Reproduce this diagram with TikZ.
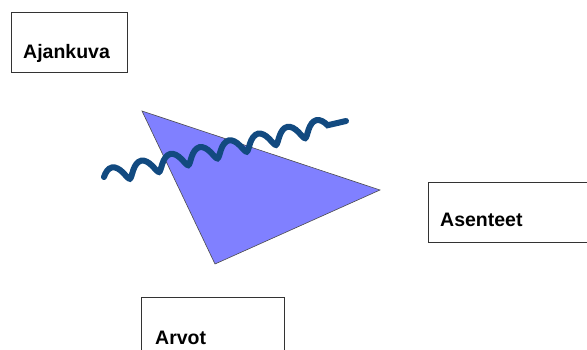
\documentclass[tikz,border=0pt]{standalone}
\usepackage{fontspec}
\setmainfont{Liberation Sans}
\usepackage{tikz}
\usetikzlibrary{positioning,decorations.pathmorphing}

\definecolor{trifill}{RGB}{128,128,255}
\definecolor{waveblue}{RGB}{18,74,128}

\begin{document}
\begin{tikzpicture}[
x=1pt, y=-1pt,
box/.style={draw=black!80, line width=1pt, anchor=north west, inner sep=0pt},
lbl/.style={anchor=base west, font=\fontsize{19.5}{22}\selectfont\bfseries, inner sep=0pt},
wave/.style={draw=waveblue, line width=6pt, line cap=round,
  decorate, decoration={coil, amplitude=7.5pt, segment length=30pt, aspect=0.3}}
]
\useasboundingbox (0,0) rectangle (587,350);
\clip (0,0) rectangle (587,350);
% the three boxes, text sits low in each box
\node[box, minimum width=116pt, minimum height=60pt] (ajankuva) at (11,12) {};
\node[lbl] (ajankuvatxt) at ([xshift=12pt, yshift=14pt]ajankuva.south west) {Ajankuva};
\node[box, minimum width=180pt, minimum height=60pt] (asenteet) at (428,182) {};
\node[lbl] (asenteettxt) at ([xshift=12pt, yshift=16pt]asenteet.south west) {Asenteet};
\node[box, minimum width=143pt, minimum height=70pt] (arvot) at (141,297) {};
\node[lbl] (arvottxt) at ([xshift=14pt, yshift=24pt]arvot.south west) {Arvot};
% triangle and the wavy line across it
\coordinate (ta) at (142,111);
\coordinate (tb) at (380,190);
\coordinate (tc) at (215,264);
\filldraw[fill=trifill, draw=black!70, line width=0.6pt] (ta) -- (tb) -- (tc) -- cycle;
\coordinate (ws) at (104,177);
\coordinate (we) at (346,121);
\draw[wave] (ws) -- (we);
\end{tikzpicture}
\end{document}
